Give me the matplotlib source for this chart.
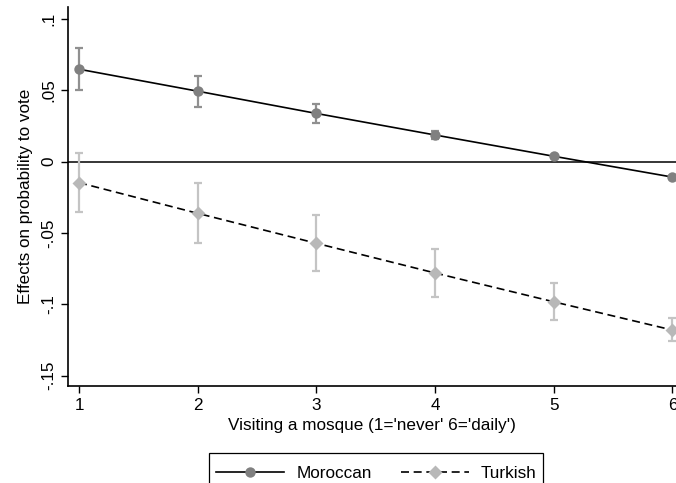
import matplotlib.pyplot as plt
from matplotlib.patches import Rectangle
import numpy as np

plt.rcParams['font.family'] = ['Liberation Sans', 'DejaVu Sans']

visits = [1, 2, 3, 4, 5, 6]

# Moroccan effects and confidence bounds
mor_eff = [0.0648, 0.0494, 0.0338, 0.0187, 0.0038, -0.0108]
mor_hi = [0.0795, 0.0599, 0.0405, 0.0215, 0.0050, -0.0100]
mor_lo = [0.0500, 0.0386, 0.0272, 0.0160, 0.0026, -0.0116]

# Turkish effects and confidence bounds
tur_eff = [-0.0147, -0.0362, -0.0572, -0.0780, -0.0982, -0.1180]
tur_hi = [0.0063, -0.0150, -0.0376, -0.0610, -0.0848, -0.1094]
tur_lo = [-0.0355, -0.0570, -0.0766, -0.0947, -0.1110, -0.1257]

yticks = [0.1, 0.05, 0, -0.05, -0.1, -0.15]
ytick_labels = ['.1', '.05', '0', '-.05', '-.1', '-.15']

FS = 12.3
DASH = (4.8, 2.8)

fig = plt.figure(figsize=(6.76, 4.83), dpi=100)
ax = fig.add_axes([68 / 676, 97 / 483, 1 - 68 / 676, 379 / 483])

mor_err = [np.array(mor_eff) - np.array(mor_lo), np.array(mor_hi) - np.array(mor_eff)]
tur_err = [np.array(tur_eff) - np.array(tur_lo), np.array(tur_hi) - np.array(tur_eff)]

ax.axhline(0, color='black', lw=1.1, zorder=1)

ax.errorbar(visits, mor_eff, yerr=mor_err, fmt='none', ecolor='#909090',
            elinewidth=1.6, capsize=3.2, capthick=1.6, zorder=2)
ax.errorbar(visits, tur_eff, yerr=tur_err, fmt='none', ecolor='#c4c4c4',
            elinewidth=1.6, capsize=3.2, capthick=1.6, zorder=2)

ax.plot(visits, mor_eff, color='black', lw=1.2, zorder=3)
ax.plot(visits, tur_eff, color='black', lw=1.2, dashes=DASH, zorder=3)
ax.plot(visits, mor_eff, 'o', color='#808080', ms=7.5, mec='none', zorder=4)
ax.plot(visits, tur_eff, 'D', color='#b8b8b8', ms=7.5, mec='none', zorder=4)

# legend proxies
h1, = ax.plot([], [], color='black', lw=1.2, marker='o', mfc='#808080',
              mec='none', ms=7.5)
h2, = ax.plot([], [], color='black', lw=1.2, dashes=DASH, marker='D',
              mfc='#b8b8b8', mec='none', ms=7.5)

ax.set_xlim(0.907, 6.03)
ax.set_ylim(-0.1572, 0.1084)
ax.set_xticks(visits)
ax.set_yticks(yticks)
ax.set_yticklabels(ytick_labels, rotation=90, va='center')
ax.tick_params(labelsize=FS, length=5, width=1, colors='black')
for s in ['top', 'right']:
    ax.spines[s].set_visible(False)
ax.spines['left'].set_linewidth(1.2)
ax.spines['bottom'].set_linewidth(1.2)

ax.set_xlabel("Visiting a mosque (1='never' 6='daily')", fontsize=FS, labelpad=4)
ax.set_ylabel('Effects on probability to vote', fontsize=FS, labelpad=6)

# legend entries without frame; the box is drawn separately and runs off the bottom
fig.legend([h1, h2], ['Moroccan', 'Turkish'], loc='upper left',
           bbox_to_anchor=(209 / 676, 1 - 459 / 483), ncol=2,
           fontsize=FS, frameon=False, handlelength=4,
           columnspacing=1.7, borderpad=0.4, handletextpad=0.7,
           borderaxespad=0)
fig.add_artist(Rectangle((209 / 676, -10 / 483), 334 / 676, 40 / 483,
                         transform=fig.transFigure, fill=False,
                         edgecolor='black', lw=0.9))

fig.savefig('out.png', dpi=100)
